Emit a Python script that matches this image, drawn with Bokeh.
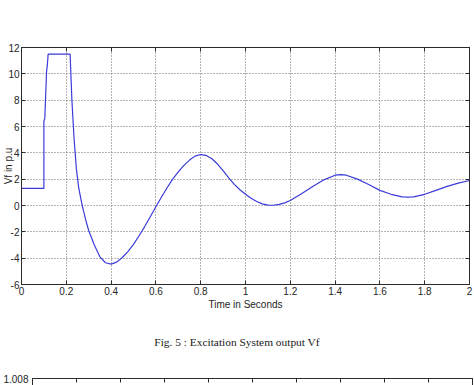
from bokeh.plotting import figure
from bokeh.models import FixedTicker, LinearAxis, Range1d, Div
from bokeh.layouts import column
from bokeh.embed import file_html
from bokeh.resources import INLINE

# ---------------- data ----------------
time_s = [0.0, 0.1, 0.1, 0.104, 0.112, 0.115, 0.119, 0.217, 0.225, 0.235, 0.245,
          0.255, 0.265, 0.275, 0.29, 0.30, 0.325, 0.35, 0.375, 0.40, 0.425, 0.45,
          0.475, 0.50, 0.525, 0.55, 0.575, 0.60, 0.625, 0.65, 0.675, 0.70, 0.725,
          0.75, 0.775, 0.80, 0.825, 0.85, 0.875, 0.90, 0.925, 0.95, 0.975, 1.00,
          1.025, 1.05, 1.075, 1.10, 1.125, 1.15, 1.175, 1.20, 1.25, 1.30, 1.35,
          1.40, 1.425, 1.45, 1.50, 1.55, 1.60, 1.65, 1.70, 1.725, 1.75, 1.80,
          1.85, 1.90, 1.95, 2.00]
vf_pu = [1.3, 1.3, 6.4, 6.6, 10.2, 10.6, 11.5, 11.5, 8.0, 5.0, 2.8,
         1.4, 0.5, -0.3, -1.3, -1.9, -3.0, -3.9, -4.35, -4.45, -4.3, -3.95,
         -3.5, -2.95, -2.3, -1.6, -0.85, -0.1, 0.65, 1.35, 2.0, 2.55, 3.05,
         3.45, 3.75, 3.87, 3.8, 3.55, 3.15, 2.65, 2.1, 1.6, 1.2, 0.85,
         0.55, 0.3, 0.12, 0.03, 0.02, 0.08, 0.2, 0.38, 0.9, 1.45, 1.95,
         2.3, 2.35, 2.3, 2.0, 1.6, 1.15, 0.85, 0.66, 0.63, 0.65, 0.85,
         1.15, 1.45, 1.7, 1.9]

x_ticks = [0, 0.2, 0.4, 0.6, 0.8, 1, 1.2, 1.4, 1.6, 1.8, 2]
x_tick_labels = ["0", "0.2", "0.4", "0.6", "0.8", "1", "1.2", "1.4", "1.6", "1.8", "2"]
y_ticks = [-6, -4, -2, 0, 2, 4, 6, 8, 10, 12]
y_tick_labels = ["-6", "-4", "-2", "0", "2", "4", "6", "8", "10", "12"]

x_label = "Time in Seconds"
y_label = "Vf in p.u"
caption = "Fig. 5 : Excitation System output Vf"

# second (cut-off) chart below
second_x_ticks = [0, 1, 2, 3, 4, 5, 6, 7, 8, 9, 10]
second_y_ticks = [1.008]
second_y_tick_labels = ["1.008"]

# ---------------- styling ----------------
FRAME = "#2b2b2b"
TEXT = "#262626"
LINE = "#3b3bdb"
FONT = "Liberation Sans"


def style_axis(ax, show_labels=True):
    ax.axis_line_color = FRAME
    ax.axis_line_width = 1
    ax.major_tick_line_color = FRAME
    ax.major_tick_in = 4
    ax.major_tick_out = 0
    ax.minor_tick_line_color = None
    ax.minor_tick_in = 0
    ax.minor_tick_out = 0
    ax.major_label_text_font = FONT
    if show_labels:
        ax.major_label_text_color = TEXT
        ax.major_label_text_font_size = "10px"
        ax.major_label_standoff = 2
    else:
        ax.major_label_text_color = None
        ax.major_label_text_font_size = "1px"
        ax.major_label_standoff = 0


# ---------------- main chart ----------------
p1 = figure(width=474, height=315,
            x_range=Range1d(0, 2), y_range=Range1d(-6, 12),
            output_backend="svg", toolbar_location=None,
            min_border_left=19, min_border_right=5,
            min_border_top=47, min_border_bottom=31,
            background_fill_color="white", border_fill_color="white",
            outline_line_color=FRAME)
p1.frame_align = {"left": False, "right": False}

xt = FixedTicker(ticks=x_ticks)
yt = FixedTicker(ticks=y_ticks)

p1.xaxis.ticker = xt
p1.yaxis.ticker = yt
p1.xaxis.major_label_overrides = dict(zip(x_ticks, x_tick_labels))
p1.yaxis.major_label_overrides = dict(zip(y_ticks, y_tick_labels))
for ax in p1.xaxis + p1.yaxis:
    style_axis(ax, True)

xa = p1.below[0]
xa.axis_label = x_label
xa.axis_label_text_font = FONT
xa.axis_label_text_font_size = "10px"
xa.axis_label_text_font_style = "normal"
xa.axis_label_text_color = TEXT
xa.axis_label_standoff = 1

ya = p1.left[0]
ya.axis_label = y_label
ya.axis_label_text_font = FONT
ya.axis_label_text_font_size = "10px"
ya.axis_label_text_font_style = "normal"
ya.axis_label_text_color = TEXT
ya.axis_label_standoff = -9

top_ax = LinearAxis(ticker=xt)
right_ax = LinearAxis(ticker=yt)
style_axis(top_ax, False)
style_axis(right_ax, False)
p1.add_layout(top_ax, "above")
p1.add_layout(right_ax, "right")

p1.xgrid.ticker = xt
p1.ygrid.ticker = yt
for g in (p1.xgrid[0], p1.ygrid[0]):
    g.grid_line_color = "#6a6a6a"
    g.grid_line_dash = "1 2"
    g.grid_line_width = 1

p1.line(time_s, vf_pu, line_color=LINE, line_width=1.2)

# ---------------- figure caption ----------------
cap = Div(text=caption, width=474, height=54, margin=0,
          styles={"font-family": "'Liberation Serif', serif",
                  "font-size": "11.4px", "color": "#1a1a1a",
                  "text-align": "center", "line-height": "54px"})

# ---------------- second chart (only its top edge is visible) ----------------
p2 = figure(width=474, height=16,
            x_range=Range1d(0, 10), y_range=Range1d(1.0077, 1.008),
            x_axis_location="above",
            output_backend="svg", toolbar_location=None,
            min_border_left=32, min_border_right=2,
            min_border_top=9, min_border_bottom=0,
            background_fill_color="white", border_fill_color="white",
            outline_line_color=None)
p2.frame_align = {"left": False, "right": False}
p2.grid.visible = False
s2x = FixedTicker(ticks=second_x_ticks)
s2y = FixedTicker(ticks=second_y_ticks)
p2.xaxis.ticker = s2x
p2.yaxis.ticker = s2y
p2.yaxis.major_label_overrides = dict(zip(second_y_ticks, second_y_tick_labels))
for ax in p2.xaxis:
    style_axis(ax, False)
for ax in p2.yaxis:
    style_axis(ax, True)
    ax.major_label_standoff = 4
r2 = LinearAxis(ticker=s2y)
style_axis(r2, False)
p2.add_layout(r2, "right")
p2.line([], [], line_color=LINE)

layout = column(p1, cap, p2, spacing=0)

open("out.html", "w").write(file_html(layout, INLINE))
